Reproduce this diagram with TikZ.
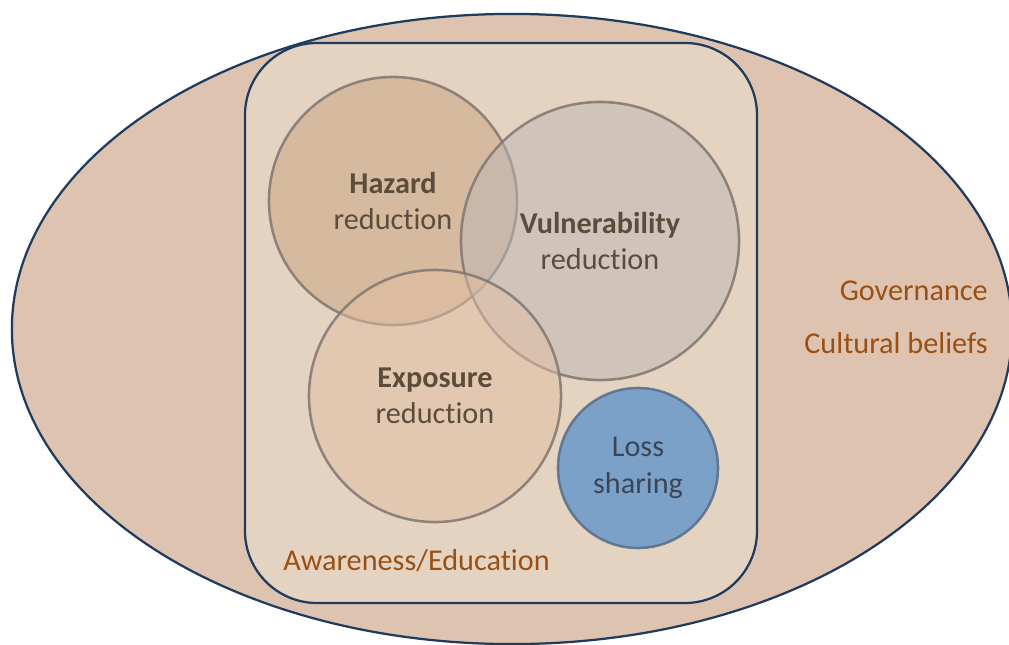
\documentclass[tikz,border=0pt]{standalone}
\usepackage{fontspec}
\setmainfont[RawFeature={-liga;-clig;-calt;-dlig}]{Carlito}
\usetikzlibrary{positioning}

\definecolor{outerfill}{RGB}{222,196,176}
\definecolor{boxfill}{RGB}{227,211,192}
\definecolor{navy}{RGB}{31,59,94}
\definecolor{ringgray}{RGB}{128,118,112}
\definecolor{hazfill}{RGB}{200,163,128}
\definecolor{vulfill}{RGB}{190,182,182}
\definecolor{expfill}{RGB}{228,190,164}
\definecolor{lossfill}{RGB}{123,161,200}
\definecolor{lossline}{RGB}{88,108,134}
\definecolor{darktext}{RGB}{92,76,60}
\definecolor{losstext}{RGB}{58,70,88}
\definecolor{orangetext}{RGB}{154,80,20}

\tikzset{
    ring/.style = {circle, draw=ringgray, draw opacity=0.85, line width=1.8pt,
                   fill opacity=0.5, text opacity=1, inner sep=0pt, outer sep=0pt,
                   align=center, text=darktext, font=\fontsize{21.5}{26}\selectfont},
    tag/.style = {text=orangetext, font=\fontsize{21.5}{26}\selectfont, inner sep=0pt}
}

\begin{document}
\begin{tikzpicture}[x=0.025cm, y=-0.025cm]
        \useasboundingbox (0,0) rectangle (1009,645);

        \draw[navy, line width=1.6pt, fill=outerfill] (512,329) ellipse [x radius=12.5cm, y radius=7.875cm];
        \draw[navy, line width=1.6pt, fill=boxfill, rounded corners=1.8cm] (245,43) rectangle (757,603);

        \node[ring, fill=hazfill, minimum size=6.2cm](Haz) at (393,201){\textbf{Hazard}\\reduction};
        \node[ring, fill=vulfill, minimum size=6.95cm](Vul) at (600,241){\textbf{Vulnerability}\\reduction};
        \node[ring, fill=expfill, minimum size=6.3cm](Exp) at (435,396){\textbf{Exposure}\\reduction};
        \node[ring, fill=lossfill, fill opacity=1, draw=lossline, text=losstext, minimum size=4cm](Loss) at (638,468){Loss\\sharing};

        \node[tag, anchor=west](Aware) at (283,561){Awareness/Education};
        \node[tag, anchor=east](Gov) at (988,291){Governance};
        \node[tag, anchor=east](Cult) at (988,343){Cultural beliefs};

    \end{tikzpicture}
\end{document}
